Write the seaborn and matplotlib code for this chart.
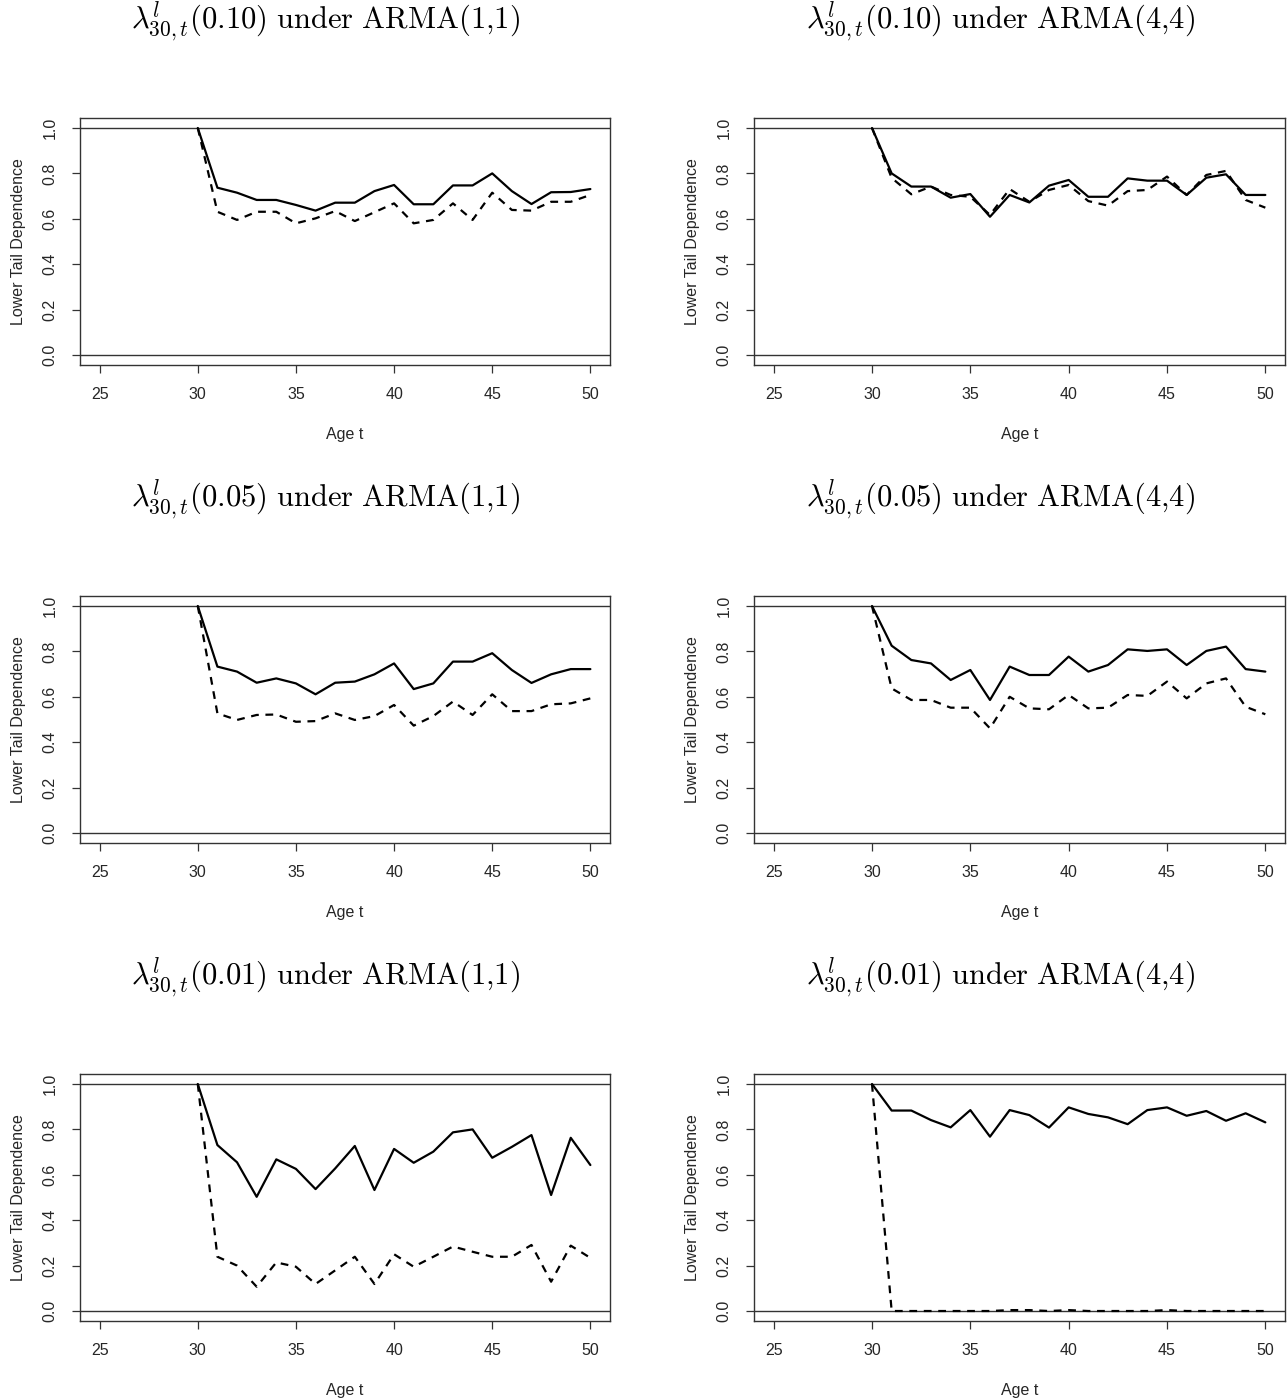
import numpy as np
import pandas as pd
import matplotlib
matplotlib.use("Agg")
import matplotlib.pyplot as plt
import seaborn as sns

ages = list(range(30, 51))

# Panel data: solid = first estimator, dashed = second estimator
p010_a11_solid = [1.0, 0.737, 0.715, 0.683, 0.683, 0.661, 0.636, 0.671, 0.671, 0.722, 0.749,
                  0.664, 0.664, 0.747, 0.747, 0.800, 0.722, 0.665, 0.717, 0.718, 0.731]
p010_a11_dash = [1.0, 0.631, 0.595, 0.631, 0.631, 0.580, 0.602, 0.634, 0.590, 0.629, 0.668,
                 0.580, 0.595, 0.668, 0.595, 0.715, 0.639, 0.636, 0.675, 0.675, 0.705]
p010_a44_solid = [1.0, 0.800, 0.742, 0.742, 0.693, 0.709, 0.609, 0.705, 0.672, 0.746, 0.771,
                  0.697, 0.697, 0.778, 0.768, 0.768, 0.705, 0.781, 0.796, 0.705, 0.705]
p010_a44_dash = [1.0, 0.780, 0.708, 0.742, 0.705, 0.697, 0.617, 0.731, 0.675, 0.727, 0.749,
                 0.678, 0.658, 0.722, 0.727, 0.786, 0.705, 0.793, 0.811, 0.683, 0.649]
p005_a11_solid = [1.0, 0.733, 0.711, 0.662, 0.681, 0.659, 0.611, 0.662, 0.667, 0.699, 0.747,
                  0.634, 0.659, 0.755, 0.755, 0.792, 0.718, 0.661, 0.699, 0.722, 0.722]
p005_a11_dash = [1.0, 0.527, 0.498, 0.520, 0.522, 0.490, 0.493, 0.527, 0.498, 0.515, 0.564,
                 0.473, 0.515, 0.579, 0.520, 0.611, 0.537, 0.537, 0.567, 0.571, 0.593]
p005_a44_solid = [1.0, 0.825, 0.762, 0.747, 0.674, 0.718, 0.586, 0.733, 0.696, 0.696, 0.777,
                  0.711, 0.740, 0.809, 0.802, 0.809, 0.740, 0.802, 0.821, 0.722, 0.711]
p005_a44_dash = [1.0, 0.637, 0.586, 0.586, 0.552, 0.552, 0.461, 0.600, 0.549, 0.545, 0.608,
                 0.549, 0.552, 0.608, 0.604, 0.667, 0.593, 0.659, 0.681, 0.556, 0.523]
p001_a11_solid = [1.0, 0.731, 0.655, 0.503, 0.668, 0.626, 0.537, 0.628, 0.727, 0.533, 0.714,
                  0.653, 0.702, 0.787, 0.800, 0.675, 0.723, 0.775, 0.511, 0.763, 0.643]
p001_a11_dash = [1.0, 0.239, 0.200, 0.107, 0.214, 0.195, 0.119, 0.179, 0.239, 0.119, 0.250,
                 0.195, 0.239, 0.284, 0.261, 0.239, 0.239, 0.291, 0.129, 0.288, 0.234]
p001_a44_solid = [1.0, 0.883, 0.883, 0.841, 0.809, 0.885, 0.768, 0.885, 0.863, 0.808, 0.897,
                  0.868, 0.853, 0.823, 0.885, 0.897, 0.860, 0.881, 0.838, 0.871, 0.831]
p001_a44_dash = [1.0, 0.0, 0.0, 0.0, 0.0, 0.0, 0.0, 0.004, 0.004, 0.0, 0.004,
                 0.0, 0.0, 0.0, 0.0, 0.004, 0.0, 0.0, 0.0, 0.0, 0.0]

titles = [
    r"$\lambda^{l}_{30,t}(0.10)\ \mathrm{under\ ARMA(1{,}1)}$",
    r"$\lambda^{l}_{30,t}(0.10)\ \mathrm{under\ ARMA(4{,}4)}$",
    r"$\lambda^{l}_{30,t}(0.05)\ \mathrm{under\ ARMA(1{,}1)}$",
    r"$\lambda^{l}_{30,t}(0.05)\ \mathrm{under\ ARMA(4{,}4)}$",
    r"$\lambda^{l}_{30,t}(0.01)\ \mathrm{under\ ARMA(1{,}1)}$",
    r"$\lambda^{l}_{30,t}(0.01)\ \mathrm{under\ ARMA(4{,}4)}$",
]
panels = [
    (p010_a11_solid, p010_a11_dash), (p010_a44_solid, p010_a44_dash),
    (p005_a11_solid, p005_a11_dash), (p005_a44_solid, p005_a44_dash),
    (p001_a11_solid, p001_a11_dash), (p001_a44_solid, p001_a44_dash),
]
xticks = [25, 30, 35, 40, 45, 50]
yticks = [0.0, 0.2, 0.4, 0.6, 0.8, 1.0]
ytick_labels = ["0.0", "0.2", "0.4", "0.6", "0.8", "1.0"]

sns.set_theme(style="ticks")
plt.rcParams["font.family"] = ["Liberation Sans", "DejaVu Sans"]
plt.rcParams["mathtext.fontset"] = "cm"

W, H = 1288, 1399
fig = plt.figure(figsize=(W / 100, H / 100), dpi=100)

lefts = [80, 754]
widths = [530, 531]
tops = [118, 596, 1074]
hgt = 247
title_y = [21, 499, 977]
title_x = [325, 1000]

for i, (solid, dash) in enumerate(panels):
    r, c = divmod(i, 2)
    ax = fig.add_axes([lefts[c] / W, 1 - (tops[r] + hgt) / H, widths[c] / W, hgt / H])
    df = pd.DataFrame({"age": ages, "solid": solid, "dash": dash})
    ax.axhline(0, color="#333333", lw=1.0, zorder=1)
    ax.axhline(1, color="#333333", lw=1.0, zorder=1)
    sns.lineplot(data=df, x="age", y="solid", ax=ax, color="black", lw=1.6, zorder=3)
    sns.lineplot(data=df, x="age", y="dash", ax=ax, color="black", lw=1.6, zorder=2)
    ax.lines[-1].set_dashes((3.5, 3.0))
    ax.set_xlim(24, 51)
    ax.set_ylim(-0.044, 1.044)
    ax.set_xticks(xticks)
    ax.set_xticklabels([str(t) for t in xticks], fontsize=11.5)
    ax.set_yticks(yticks)
    ax.set_yticklabels(ytick_labels, fontsize=11.5, rotation=90, va="center")
    ax.tick_params(axis="both", direction="out", length=6, width=0.9, color="#333333")
    ax.tick_params(axis="x", pad=10)
    ax.tick_params(axis="y", pad=10)
    for sp in ax.spines.values():
        sp.set_visible(True)
        sp.set_color("#333333")
        sp.set_linewidth(1.0)
    ax.set_xlabel("Age t", fontsize=11.5, labelpad=18)
    ax.set_ylabel("Lower Tail Dependence", fontsize=11.5, labelpad=12)
    fig.text(title_x[c] / W, 1 - title_y[r] / H, titles[i], ha="center", va="center",
             fontsize=22, color="black")

fig.savefig("out.png", dpi=100, facecolor="white")
